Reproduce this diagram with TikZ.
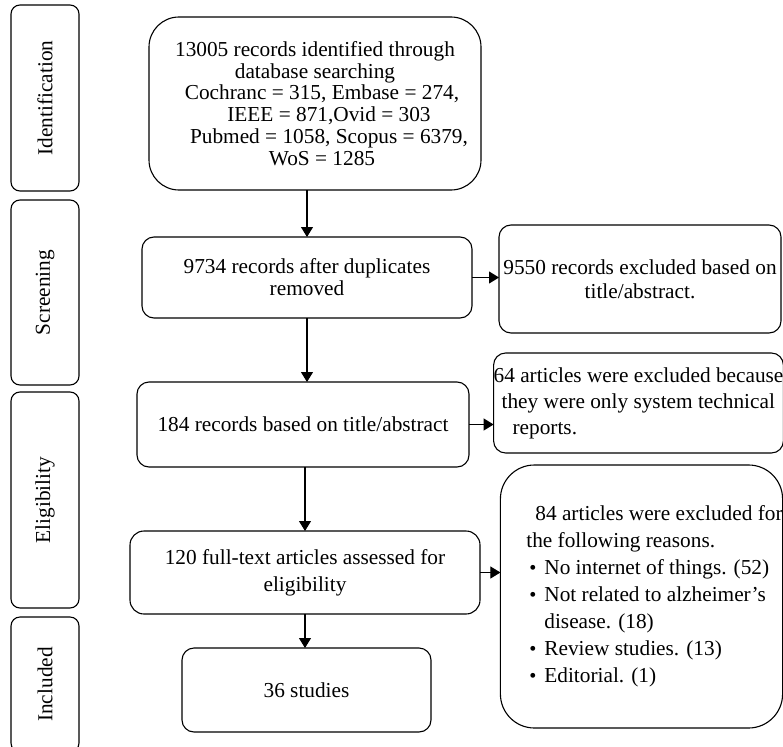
\documentclass[tikz,border=0pt]{standalone}
\usepackage{graphicx}
\usepackage{fontspec}
\setmainfont{Liberation Serif}
\usetikzlibrary{arrows.meta}
\newcommand{\blt}{\makebox[15pt][l]{\scalebox{0.95}{•}}}
\begin{document}
\begin{tikzpicture}[x=1pt,y=-1pt,
  every node/.style={inner sep=0pt, outer sep=0pt},
  box/.style={draw=black, line width=1.1pt, rounded corners=12pt, align=center, font={\fontsize{21.3}{22}\selectfont}},
  stage/.style={draw=black, line width=1.1pt, rounded corners=9pt, minimum width=68pt, font={\fontsize{21.3}{22}\selectfont}},
  arr/.style={line width=1.1pt, -{Triangle[length=10pt,width=12pt]}}
]
\useasboundingbox (0,0) rectangle (783,746);
\fill[white] (0,0) rectangle (783,746);

% stage labels
\node[stage, minimum height=186pt] (sid) at (45,98) {\rotatebox{90}{Identification}};
\node[stage, minimum height=185pt] (sscr) at (45,292.5) {\rotatebox{90}{Screening}};
\node[stage, minimum height=216pt] (seli) at (45,500) {\rotatebox{90}{Eligibility}};
\node[stage, minimum height=135pt] (sinc) at (45,684.5) {\rotatebox{90}{Included}};

% main column
\node[box, rounded corners=30pt, minimum width=332pt, minimum height=173pt,
      font={\fontsize{21.3}{21.7}\selectfont}] (b1) at (315,103.5)
  {13005 records identified through\\
   database searching\\
   \hspace*{14pt}Cochranc = 315, Embase = 274,\\
   \hspace*{28pt}IEEE = 871,Ovid = 303\\
   \hspace*{28pt}Pubmed = 1058, Scopus = 6379,\\
   \hspace*{14pt}WoS = 1285};
\node[box, minimum width=330pt, minimum height=81pt] (b2) at (307,277.5)
  {9734 records after duplicates\\ removed};
\node[box, minimum width=332pt, minimum height=85pt] (b3) at (303,424.5)
  {184 records based on title/abstract};
\node[box, rounded corners=14pt, minimum width=350pt, minimum height=83pt,
      font={\fontsize{21.3}{27}\selectfont}] (b4) at (305,572.5)
  {120 full-text articles assessed for\\ eligibility};
\node[box, minimum width=249pt, minimum height=84pt] (b5) at (306.5,690)
  {36 studies};

% right column
\node[box, minimum width=282pt, minimum height=108pt,
      font={\fontsize{21.3}{24}\selectfont}] (r1) at (640,279)
  {9550 records excluded based on\\ title/abstract.};
\node[box, align=left, minimum width=285pt, minimum height=100pt,
      font={\fontsize{21.3}{26}\selectfont}] (r2) at (638.5,403)
  {64 articles were excluded because\\
   \hspace*{8pt}they were only system technical\\
   \hspace*{19pt}reports.};
\node[box, align=left, rounded corners=34pt, minimum width=279pt, minimum height=263pt,
      font={\fontsize{21.3}{27}\selectfont}] (r3) at (641.5,596.5)
  {\hspace*{35pt}84 articles were excluded for\\
   \hspace*{26pt}the following reasons.\\
   \hspace*{29pt}\blt No internet of things. (52)\\
   \hspace*{29pt}\blt Not related to alzheimer’s\\
   \hspace*{44pt}disease. (18)\\
   \hspace*{29pt}\blt Review studies. (13)\\
   \hspace*{29pt}\blt Editorial. (1)};

% connectors
\draw[arr] (b2.north |- b1.south) -- (b2.north);
\draw[arr] (b2.south) -- (b2.south |- b3.north);
\draw[arr] (b4.north |- b3.south) -- (b4.north);
\draw[arr] (b4.south) -- (b4.south |- b5.north);
\draw[arr] (b2.east) -- (b2.east -| r1.west);
\draw[arr] (b3.east) -- (b3.east -| r2.west);
\draw[arr] (b4.east) -- (b4.east -| r3.west);
\end{tikzpicture}
\end{document}
